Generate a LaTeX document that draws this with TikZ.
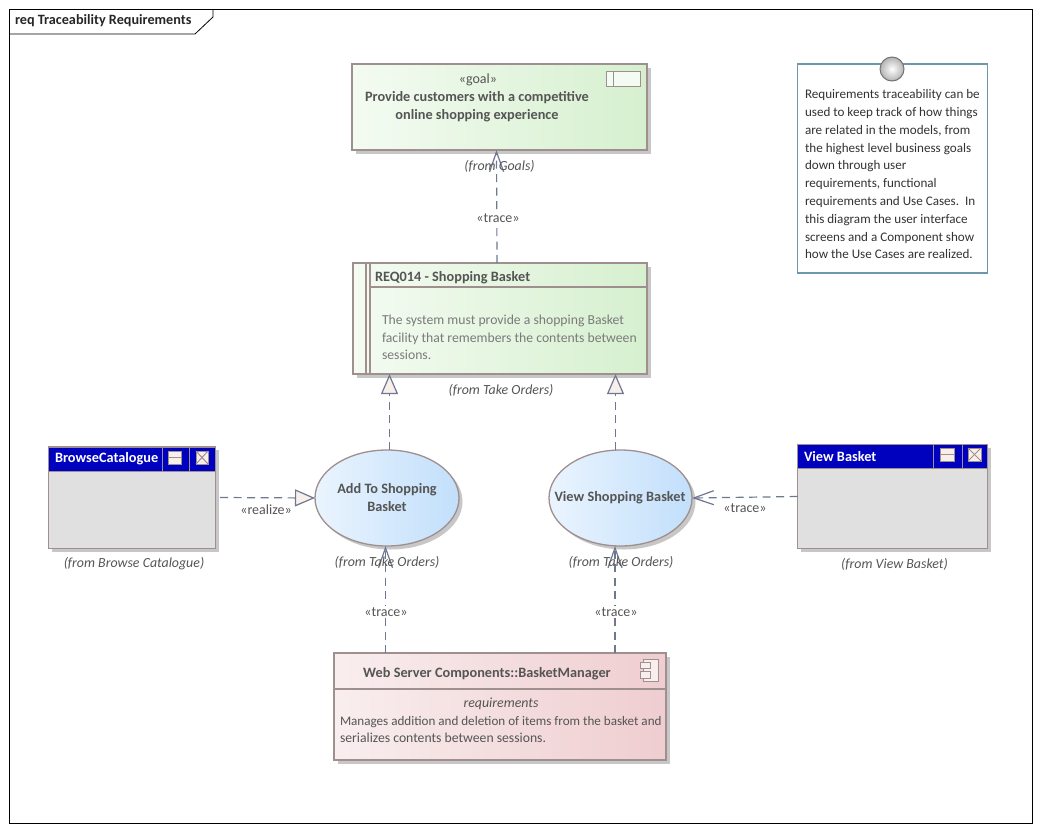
\documentclass[tikz,border=0pt]{standalone}
\usepackage{fontspec}
\setmainfont{Carlito}
\usetikzlibrary{arrows.meta,shapes.geometric,shadows}
\definecolor{edge}{HTML}{A08F8F}
\definecolor{wire}{HTML}{6E7890}
\definecolor{ink}{HTML}{555555}
\definecolor{tipfill}{HTML}{F8EFEA}
\definecolor{winblue}{HTML}{0000BF}
\definecolor{noteedge}{HTML}{6F97AC}
\definecolor{greenl}{HTML}{F4FBF2}
\definecolor{greenr}{HTML}{D6F0CF}
\definecolor{pinkl}{HTML}{F9EEEE}
\definecolor{pinkr}{HTML}{EFCDD0}
\definecolor{bluel}{HTML}{EAF4FE}
\definecolor{bluer}{HTML}{C2DFFB}
\begin{document}
\begin{tikzpicture}[x=1pt, y=-1pt, inner sep=0pt, outer sep=0pt, line width=1pt,
    shade/.style = {drop shadow={shadow xshift=3.5pt, shadow yshift=-3.5pt, fill=black!22, opacity=1}},
    main/.style = {draw=edge, rectangle, shade, line width=1.3pt},
    greenbox/.style = {main, left color=greenl, right color=greenr},
    pinkbox/.style = {main, left color=pinkl, right color=pinkr},
    winbox/.style = {main, fill=black!12},
    usecase/.style = {main, ellipse, left color=bluel, right color=bluer},
    bar/.style = {rectangle, fill=winblue, draw=edge, line width=0.8pt},
    icon/.style = {rectangle, draw=edge, fill=tipfill, line width=1pt},
    txt/.style = {text=ink, font=\fontsize{13.7}{17.6}\selectfont, align=left},
    head/.style = {text=ink, font=\fontsize{14.3}{17.4}\selectfont\bfseries, align=center},
    from/.style = {text=ink, font=\fontsize{13.9}{16}\selectfont\itshape},
    tag/.style = {text=ink, font=\fontsize{14}{16}\selectfont, fill=white, inner xsep=1pt, inner ysep=2pt},
    trace/.style = {draw=wire, line width=1.2pt, dash pattern=on 8pt off 5.5pt, -{Straight Barb[length=20pt,width=14pt]}},
    realize/.style = {draw=wire, line width=1.2pt, dash pattern=on 8pt off 5.5pt, -{Triangle[length=20pt,width=17pt,fill=tipfill]}}]
    \useasboundingbox (0,0) rectangle (1040,830);
    \fill[white] (0,0) rectangle (1040,830);

    % frame and its title tab
    \node[draw=black, line width=0.8pt, minimum width=1023pt, minimum height=814pt] (frame) at (520.5,416) {};
    \node[text=black!85, font=\fontsize{14.2}{16}\selectfont\bfseries, anchor=west] (title) at (15,21) {req Traceability Requirements};
    \draw[black, line width=0.8pt] (9,34) -- (195,34) -- (213,17) -- (213,9);

    % elements
    \node[greenbox, minimum width=295pt, minimum height=86pt] (goal) at (499.5,107) {};
    \node[greenbox, minimum width=294pt, minimum height=111pt] (req) at (500,318.5) {};
    \node[winbox, minimum width=167pt, minimum height=102pt] (browse) at (132,497.5) {};
    \node[winbox, minimum width=190pt, minimum height=104pt] (basket) at (892.5,496.5) {};
    \node[usecase, minimum width=144pt, minimum height=96pt] (add) at (387,498) {};
    \node[usecase, minimum width=143pt, minimum height=96pt] (view) at (620.5,498) {};
    \node[pinkbox, minimum width=332pt, minimum height=107pt] (comp) at (500,706.5) {};
    \node[draw=noteedge, fill=white, line width=1.2pt, minimum width=190pt, minimum height=209pt] (note) at (892.5,168.5) {};
    \node[circle, draw=black!55, line width=1pt, inner color=white, outer color=black!30, minimum size=24pt] (pin) at (892,69) {};

    % goal icon
    \node[icon, fill=greenl, minimum width=34pt, minimum height=15pt] (goalicon) at (623,79) {};
    \draw[edge] ([xshift=7pt]goalicon.north west) -- ([xshift=7pt]goalicon.south west);

    % requirement bars
    \draw[edge, line width=1.2pt] ([xshift=13pt]req.north west) -- ([xshift=13pt]req.south west);
    \draw[edge, line width=1.2pt] ([xshift=17pt]req.north west) -- ([xshift=17pt]req.south west);
    \draw[edge, line width=1.2pt] ([xshift=17pt,yshift=-24pt]req.north west) -- ([yshift=-24pt]req.north east);

    % window title bars
    \node[bar, minimum width=167pt, minimum height=24pt] (browsebar) at (132,459) {};
    \draw[edge, line width=0.8pt] (browsebar.north west) ++(114,0) -- ++(0,24);
    \draw[edge, line width=0.8pt] (browsebar.north west) ++(141,0) -- ++(0,24);
    \node[icon, minimum width=13pt, minimum height=13pt] (browsemin) at (175,457.5) {};
    \draw[edge] (browsemin.west) -- (browsemin.east);
    \node[icon, minimum width=12pt, minimum height=13pt] (browsex) at (202,457.5) {};
    \draw[edge] (browsex.north west) -- (browsex.south east);
    \draw[edge] (browsex.north east) -- (browsex.south west);

    \node[bar, minimum width=190pt, minimum height=24pt] (basketbar) at (892.5,456.5) {};
    \draw[edge, line width=0.8pt] (basketbar.north west) ++(136,0) -- ++(0,24);
    \draw[edge, line width=0.8pt] (basketbar.north west) ++(165,0) -- ++(0,24);
    \node[icon, minimum width=14pt, minimum height=13pt] (basketmin) at (947,454.5) {};
    \draw[edge] (basketmin.west) -- (basketmin.east);
    \node[icon, minimum width=13pt, minimum height=13pt] (basketx) at (974.5,454.5) {};
    \draw[edge] (basketx.north west) -- (basketx.south east);
    \draw[edge] (basketx.north east) -- (basketx.south west);

    % component divider and icon
    \draw[edge, line width=1.2pt] ([yshift=-36pt]comp.north west) -- ([yshift=-36pt]comp.north east);
    \node[icon, fill=pinkl, minimum width=15pt, minimum height=22pt] (compicon) at (650.5,670) {};
    \node[icon, fill=pinkl, minimum width=10pt, minimum height=6pt] (compa) at (645,665) {};
    \node[icon, fill=pinkl, minimum width=10pt, minimum height=7pt] (compb) at (645,674.5) {};

    % connectors
    \draw[trace] ([xshift=-3pt]req.north) -- ([xshift=-3pt]goal.south);
    \draw[realize] ([xshift=2.5pt]add.north) -- ([xshift=-110.5pt]req.south);
    \draw[realize] ([xshift=-5pt]view.north) -- ([xshift=115.5pt]req.south);
    \draw[realize] ([xshift=4.5pt]browse.east) -- (add.west);
    \draw[trace] (basket.west) -- (view.east);
    \draw[trace] ([xshift=-114.5pt]comp.north) -- ([xshift=-1.5pt]add.south);
    \draw[trace] ([xshift=115pt]comp.north) -- ([xshift=-5.5pt]view.south);

    % texts
    \node[text=ink, font=\fontsize{14}{16}\selectfont] (goalkind) at (478,80) {«goal»};
    \node[head] (goalname) at (477,106.5) {Provide customers with a competitive\\online shopping experience};
    \node[from] (goalfrom) at (499.5,166) {(from Goals)};
    \node[tag] (goaltag) at (498,218.5) {«trace»};

    \node[head, anchor=west] (reqname) at (375,278) {REQ014 - Shopping Basket};
    \node[txt, text=black!52, anchor=north west] (reqtext) at (382,315) {The system must provide a shopping Basket\\facility that remembers the contents between\\sessions.};
    \node[from] (reqfrom) at (501,390) {(from Take Orders)};

    \node[head, text=white, anchor=west] (browsename) at (55,458.5) {BrowseCatalogue};
    \node[from] (browsefrom) at (134,564) {(from Browse Catalogue)};
    \node[tag] (addtag) at (266,510) {«realize»};

    \node[head, text=white, anchor=west] (basketname) at (804,456.5) {View Basket};
    \node[from] (basketfrom) at (894.5,564) {(from View Basket)};
    \node[tag] (viewtag) at (745,508) {«trace»};

    \node[head] (addname) at (387,497.5) {Add To Shopping\\Basket};
    \node[head] (viewname) at (620,498) {View Shopping Basket};
    \node[from] (addfrom) at (387,562) {(from Take Orders)};
    \node[from] (viewfrom) at (621,562) {(from Take Orders)};
    \node[tag] (comptagl) at (386,612) {«trace»};
    \node[tag] (comptagr) at (616,612) {«trace»};

    \node[head] (compname) at (487,674) {Web Server Components::BasketManager};
    \node[from] (compkind) at (501,703.5) {requirements};
    \node[txt, anchor=north west] (comptext) at (340,716) {{\fontsize{13.1}{17.6}\selectfont Manages addition and deletion of items from the basket and}\\serializes contents between sessions.};

    \node[text=black!80, font=\fontsize{13.1}{17.8}\selectfont, align=left, anchor=north west] (notetext) at (805,89.5) {Requirements traceability can be\\used to keep track of how things\\are related in the models, from\\the highest level business goals\\down through user\\requirements, functional\\requirements and Use Cases.\ \ In\\this diagram the user interface\\screens and a Component show\\how the Use Cases are realized.};
\end{tikzpicture}
\end{document}
